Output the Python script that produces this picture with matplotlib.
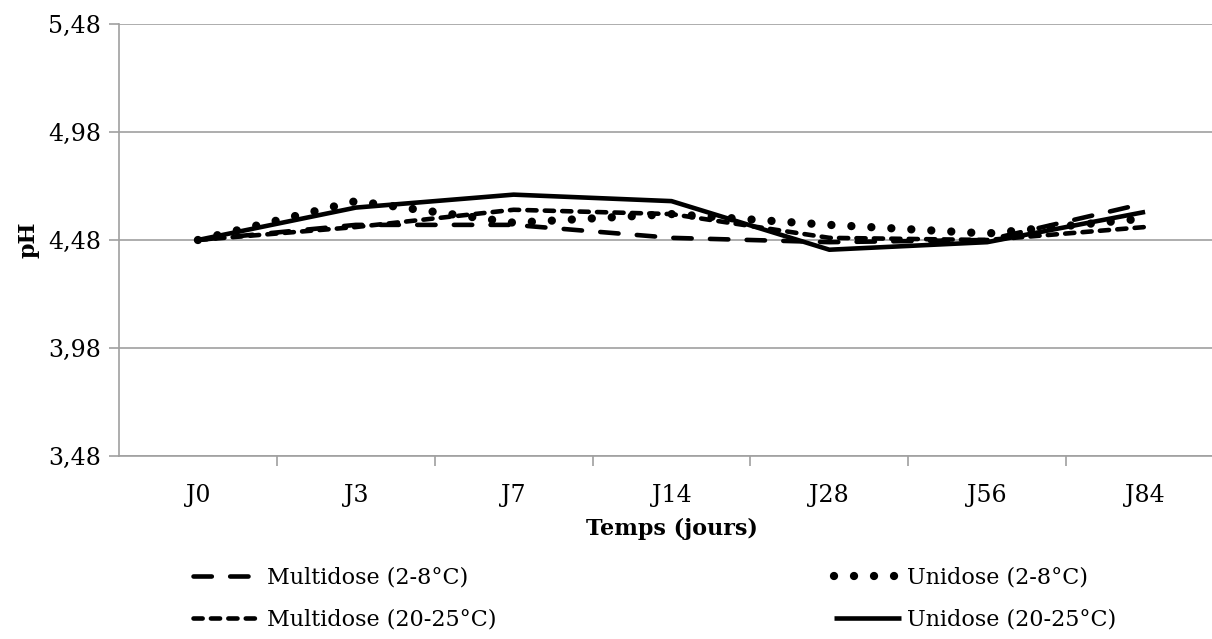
import matplotlib
matplotlib.use("Agg")
import matplotlib.pyplot as plt

# donnees
jours = ["J0", "J3", "J7", "J14", "J28", "J56", "J84"]
multidose_2_8 = [4.48, 4.55, 4.55, 4.49, 4.47, 4.48, 4.65]
unidose_2_8 = [4.48, 4.66, 4.56, 4.60, 4.55, 4.51, 4.58]
multidose_20_25 = [4.48, 4.54, 4.62, 4.60, 4.49, 4.48, 4.54]
unidose_20_25 = [4.48, 4.63, 4.69, 4.66, 4.435, 4.47, 4.61]
yticks = [3.48, 3.98, 4.48, 4.98, 5.48]

plt.rcParams['font.family'] = ['DejaVu Serif']
gris = "#a0a0a0"

fig = plt.figure(figsize=(12.12, 6.39), dpi=100)
# l'axe depasse a droite comme sur l'image d'origine (rognee)
ax = fig.add_axes([119 / 1212, 1 - 456 / 639, (1224 - 119) / 1212, (456 - 24) / 639])

x = list(range(len(jours)))
lw = 3.3
l1, = ax.plot(x, multidose_2_8, color="black", lw=lw, dashes=(4, 4),
              dash_capstyle="round", label="Multidose (2-8°C)")
l2, = ax.plot(x, unidose_2_8, color="black", lw=6, dashes=(0.001, 2.4),
              dash_capstyle="round", label="Unidose (2-8°C)")
l3, = ax.plot(x, multidose_20_25, color="black", lw=lw, dashes=(2, 1.8),
              dash_capstyle="round", label="Multidose (20-25°C)")
l4, = ax.plot(x, unidose_20_25, color="black", lw=lw, solid_capstyle="butt",
              label="Unidose (20-25°C)")

ax.set_xlim(-0.5, 6.5)
ax.set_ylim(3.48, 5.48)
ax.set_yticks(yticks)
ax.set_yticklabels([f"{v:.2f}".replace(".", ",") for v in yticks])
ax.set_xticks(x)
ax.set_xticklabels(jours)
ax.set_xticks([i + 0.5 for i in range(len(jours))], minor=True)
ax.tick_params(axis="x", which="major", length=0, pad=20, labelsize=17)
ax.tick_params(axis="x", which="minor", length=7, color=gris, width=1.2)
ax.tick_params(axis="y", length=7, color=gris, width=1.2, pad=6, labelsize=17)

ax.grid(axis="y", color=gris, lw=1.2)
ax.set_axisbelow(True)
for s in ["top", "right"]:
    ax.spines[s].set_visible(False)
for s in ["left", "bottom"]:
    ax.spines[s].set_color(gris)
    ax.spines[s].set_linewidth(1.2)

ax.set_xlabel("Temps (jours)", fontsize=16, fontweight="bold", labelpad=8)
ax.set_ylabel("pH", fontsize=16, fontweight="bold", labelpad=6)

fig.legend(handles=[l1, l3, l2, l4], loc="lower left", bbox_to_anchor=(0.143, -0.018),
           ncol=2, frameon=False, fontsize=16, handlelength=3.0, handletextpad=0.3,
           columnspacing=15.2, labelspacing=0.9)

fig.savefig("out.png", dpi=100)
